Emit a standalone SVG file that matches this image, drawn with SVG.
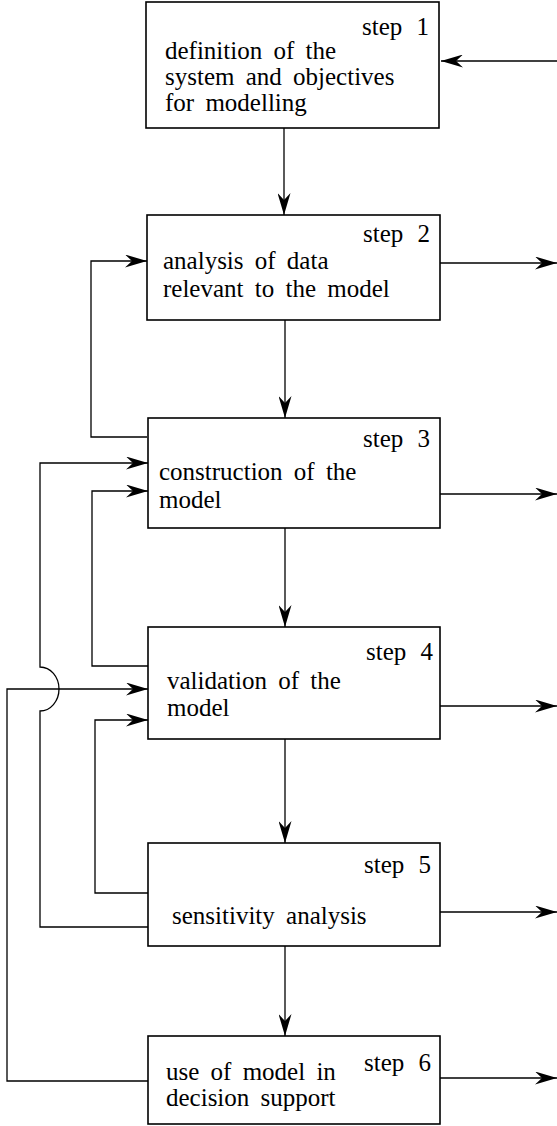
<svg xmlns="http://www.w3.org/2000/svg" width="557" height="1126" viewBox="0 0 557 1126">
  <style>
    .box { fill: #fff; stroke: #000; stroke-width: 1.6; }
    .t { font-family: 'Liberation Serif', 'DejaVu Serif', serif; font-size: 25px; fill: #000; word-spacing: 5px; }
    .s { text-anchor: end; word-spacing: 8px; }
    .c { fill: none; stroke: #000; stroke-width: 1.3; }
  </style>
  <defs>
    <marker id="arr" viewBox="0 0 22 13" markerWidth="22" markerHeight="13" refX="22" refY="6.5" orient="auto" markerUnits="userSpaceOnUse">
      <path d="M0,0 L22,6.5 L0,13 L7,6.5 Z" fill="#000"/>
    </marker>
  </defs>

  <g id="connectors">
    <!-- input into step 1 -->
    <path class="c" d="M557,61 H441" marker-end="url(#arr)"/>
    <!-- main downward flow -->
    <path class="c" d="M284,128 V215" marker-end="url(#arr)"/>
    <path class="c" d="M285,320 V418" marker-end="url(#arr)"/>
    <path class="c" d="M285,528 V627" marker-end="url(#arr)"/>
    <path class="c" d="M285,739 V843" marker-end="url(#arr)"/>
    <path class="c" d="M285,946 V1036" marker-end="url(#arr)"/>
    <!-- outputs to the right -->
    <path class="c" d="M440,263 H557" marker-end="url(#arr)"/>
    <path class="c" d="M440,494 H557" marker-end="url(#arr)"/>
    <path class="c" d="M440,706 H557" marker-end="url(#arr)"/>
    <path class="c" d="M440,912 H557" marker-end="url(#arr)"/>
    <path class="c" d="M440,1078 H557" marker-end="url(#arr)"/>
    <!-- feedback loops on the left -->
    <path class="c" d="M147,437 H91 V261 H147" marker-end="url(#arr)"/>
    <path class="c" d="M148,666 H92 V491 H148" marker-end="url(#arr)"/>
    <path class="c" d="M148,893 H95 V720 H148" marker-end="url(#arr)"/>
    <path class="c" d="M148,927 H40 V711 A19 22 0 0 0 40,667 V463 H148" marker-end="url(#arr)"/>
    <path class="c" d="M148,1081 H7 V689 H148" marker-end="url(#arr)"/>
  </g>

  <g id="step1">
    <rect class="box" x="146" y="2" width="293" height="126"/>
    <text class="t s" x="429" y="35">step 1</text>
    <text class="t" x="165" y="59">definition of the</text>
    <text class="t" x="165" y="85">system and objectives</text>
    <text class="t" x="165" y="111">for modelling</text>
  </g>

  <g id="step2">
    <rect class="box" x="147" y="215" width="293" height="105"/>
    <text class="t s" x="430" y="242">step 2</text>
    <text class="t" x="163" y="269">analysis of data</text>
    <text class="t" x="163" y="297">relevant to the model</text>
  </g>

  <g id="step3">
    <rect class="box" x="148" y="418" width="292" height="110"/>
    <text class="t s" x="430" y="447">step 3</text>
    <text class="t" x="159" y="480">construction of the</text>
    <text class="t" x="159" y="508">model</text>
  </g>

  <g id="step4">
    <rect class="box" x="148" y="627" width="292" height="112"/>
    <text class="t s" x="433" y="660">step 4</text>
    <text class="t" x="167" y="689">validation of the</text>
    <text class="t" x="167" y="716">model</text>
  </g>

  <g id="step5">
    <rect class="box" x="148" y="843" width="292" height="103"/>
    <text class="t s" x="431" y="873">step 5</text>
    <text class="t" x="172" y="924">sensitivity analysis</text>
  </g>

  <g id="step6">
    <rect class="box" x="148" y="1036" width="292" height="88"/>
    <text class="t s" x="431" y="1071">step 6</text>
    <text class="t" x="166" y="1080">use of model in</text>
    <text class="t" x="166" y="1106">decision support</text>
  </g>
</svg>
